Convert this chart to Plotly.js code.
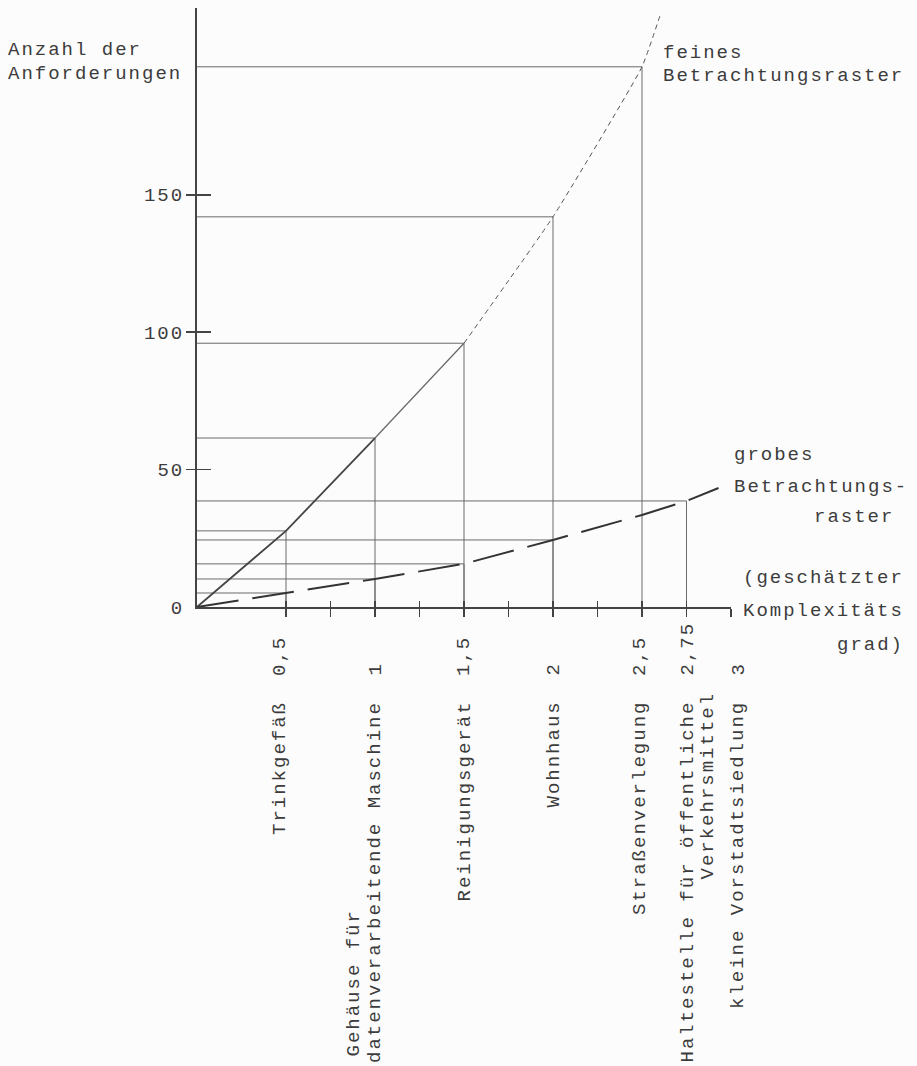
<!DOCTYPE html>
<html>
<head>
<meta charset="utf-8">
<script src="https://cdn.plot.ly/plotly-3.0.1.min.js"></script>
<style>
  html, body { margin: 0; padding: 0; background: #fcfcfc; }
  svg text { letter-spacing: 2px; }
</style>
</head>
<body>
<div id="chart" style="width:917px;height:1066px;"></div>
<script>
// ---- data ----
const xTickVals = [0.5, 0.75, 1, 1.25, 1.5, 1.75, 2, 2.25, 2.5, 2.75, 3];
const yTickVals = [0, 50, 100, 150];
const yTickText = ["0", "50", "100", "150"];
const yMarkVals = [50, 100, 150];

// feines Betrachtungsraster
const fineX = [0, 0.5, 1, 1.5, 2, 2.5, 2.6];
const fineY = [0, 27.7, 61.5, 96, 142, 196.6, 215];
const fineGuideIdx = [1, 2, 3, 4, 5];

// grobes Betrachtungsraster
const coarseX = [0, 0.5, 1, 1.5, 2, 2.5, 2.75, 2.93];
const coarseY = [0, 5.1, 10.2, 15.7, 24.4, 33.5, 38.6, 43.3];
const coarseGuideIdx = [1, 2, 3, 4, 6];

// category labels along the x axis
const catX = [0.5, 1, 1.5, 2, 2.5, 2.75, 3];
const catNames = ["Trinkgefäß", "datenverarbeitende Maschine", "Reinigungsgerät", "Wohnhaus",
                  "Straßenverlegung", "Haltestelle für öffentliche", "kleine Vorstadtsiedlung"];
const catNumbers = ["0,5", "1", "1,5", "2", "2,5", "2,75", "3"];
const extraX = [1, 2.75];
const extraLines = ["Gehäuse für", "Verkehrsmittel"];

// ---- geometry helpers ----
const W = 917, H = 1066;
const L = 197, R = 731, T = 8, B = 607;
const px = v => (v - L) / (R - L);
const py = v => (B - v) / (B - T);
const FONT = {family: "Liberation Mono, DejaVu Sans Mono, monospace", size: 19, color: "#3c3c3c"};

// guide lines (horizontal to the y axis, vertical to the x axis)
const gx = [], gy = [];
function addGuide(x, y) {
  gx.push(0, x, null, x, x, null);
  gy.push(y, y, null, 0, y, null);
}
fineGuideIdx.forEach(i => addGuide(fineX[i], fineY[i]));
coarseGuideIdx.forEach(i => addGuide(coarseX[i], coarseY[i]));

const traces = [
  {x: gx, y: gy, mode: "lines", line: {color: "#6a6a6a", width: 1}, hoverinfo: "skip"},
  {x: fineX.slice(0, 3), y: fineY.slice(0, 3), mode: "lines", line: {color: "#444", width: 1.8}},
  {x: fineX.slice(2, 4), y: fineY.slice(2, 4), mode: "lines", line: {color: "#666", width: 1.2}},
  {x: fineX.slice(3), y: fineY.slice(3), mode: "lines", line: {color: "#555", width: 1, dash: "5px,4px", shape: "spline", smoothing: 0.4}},
  {x: coarseX, y: coarseY, mode: "lines", line: {color: "#333", width: 2, dash: "42px,14px"}},
  {x: [null], y: [null], xaxis: "x2", yaxis: "y2", mode: "lines"},
  {x: [null], y: [null], xaxis: "x2", yaxis: "y3", mode: "lines"}
];

const annotations = [];
function txt(text, x, y, xanchor, extra) {
  annotations.push(Object.assign({text: text, xref: "paper", yref: "paper", x: px(x), y: py(y),
    xanchor: xanchor, yanchor: "middle", showarrow: false, font: FONT}, extra || {}));
}
txt("Anzahl der", 6, 50, "left");
txt("Anforderungen", 6, 74, "left");
txt("feines", 661, 53, "left");
txt("Betrachtungsraster", 661, 76, "left");
txt("grobes", 732, 455, "left");
txt("Betrachtungs-", 732, 487, "left");
txt("raster", 812, 517, "left");
txt("(geschätzter", 906, 578, "right");
txt("Komplexitäts", 906, 611, "right");
txt("grad)", 906, 645, "right");

// rotated category labels
const shifts = [-6, 0, 0, 0, -2, 1, 7];
catX.forEach((x, i) => {
  annotations.push({text: catNames[i], xref: "x", yref: "paper", x: x, xshift: shifts[i], y: py(699),
    xanchor: "center", yanchor: "top", textangle: -90, showarrow: false, font: FONT});
  annotations.push({text: catNumbers[i], xref: "x", yref: "paper", x: x, xshift: shifts[i], y: py(678),
    xanchor: "center", yanchor: "bottom", textangle: -90, showarrow: false, font: FONT});
});
// second lines
annotations.push({text: extraLines[0], xref: "x", yref: "paper", x: extraX[0], xshift: -22, y: py(1059),
  xanchor: "center", yanchor: "bottom", textangle: -90, showarrow: false, font: FONT});
annotations.push({text: extraLines[1], xref: "x", yref: "paper", x: extraX[1], xshift: 21, y: py(690),
  xanchor: "center", yanchor: "top", textangle: -90, showarrow: false, font: FONT});

const axCommon = {showgrid: false, zeroline: false, fixedrange: true};
const layout = {
  width: W, height: H,
  margin: {l: L, r: W - R, t: T, b: H - B, pad: 0},
  paper_bgcolor: "#fcfcfc", plot_bgcolor: "#fcfcfc",
  showlegend: false, hovermode: false,
  xaxis: Object.assign({}, axCommon, {range: [0, 3], showline: true, linecolor: "#444", linewidth: 2,
    ticks: "outside", ticklen: 8, tickwidth: 1.5, tickcolor: "#444", tickvals: xTickVals, showticklabels: false}),
  xaxis2: Object.assign({}, axCommon, {range: [0, 3], overlaying: "x", anchor: "y", side: "bottom",
    showline: false, ticks: "inside", ticklen: 6, tickwidth: 1.5, tickcolor: "#444", tickvals: xTickVals, showticklabels: false}),
  yaxis: Object.assign({}, axCommon, {range: [0, 218], showline: true, linecolor: "#444", linewidth: 2,
    ticks: "", tickvals: yTickVals, ticktext: yTickText, ticklabelstandoff: 7, tickfont: FONT}),
  yaxis2: Object.assign({}, axCommon, {range: [0, 218], overlaying: "y", anchor: "x", side: "left",
    showline: false, ticks: "outside", ticklen: 10, tickwidth: 1.5, tickcolor: "#444", tickvals: yMarkVals, showticklabels: false}),
  yaxis3: Object.assign({}, axCommon, {range: [0, 218], overlaying: "y", anchor: "x", side: "left",
    showline: false, ticks: "inside", ticklen: 14, tickwidth: 1.5, tickcolor: "#444", tickvals: yMarkVals, showticklabels: false}),
  annotations: annotations
};

Plotly.newPlot("chart", traces, layout, {staticPlot: true, displayModeBar: false});
</script>
</body>
</html>
